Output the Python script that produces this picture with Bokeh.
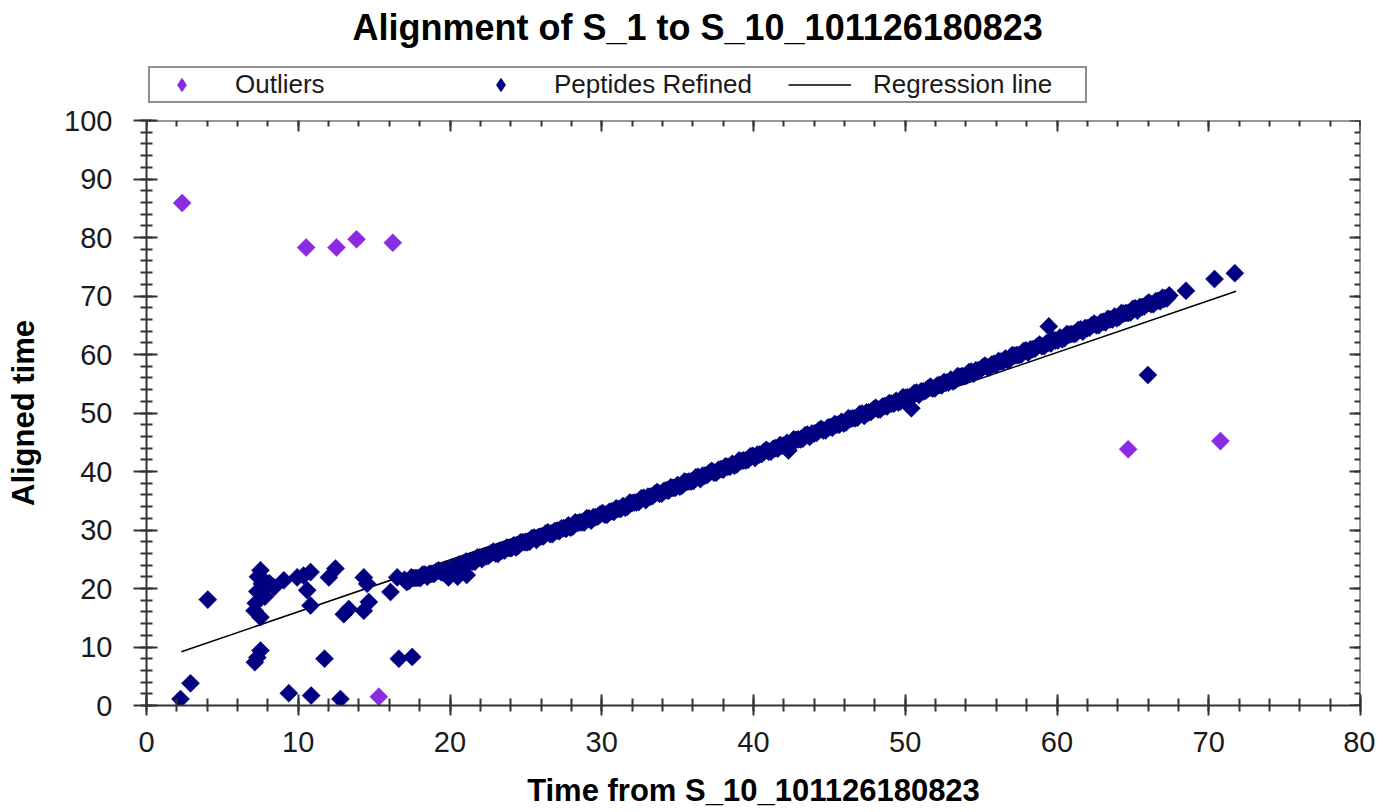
from bokeh.plotting import figure
from bokeh.models import Range1d, LinearAxis, Legend, LegendItem, FixedTicker
from bokeh.layouts import column
from bokeh.embed import file_html
from bokeh.resources import INLINE
import numpy as np

# ---------------- data ----------------
outlier_x = [2.35, 10.52, 12.52, 13.84, 16.23, 15.31, 64.69, 70.77]
outlier_y = [85.9, 78.3, 78.3, 79.7, 79.1, 1.5, 43.8, 45.2]

# scattered refined peptides at early times
early_x = [2.24, 2.90, 4.04, 7.14, 7.51, 7.30, 7.51, 7.35, 7.12, 7.51, 7.30, 7.60, 7.80,
           8.10, 9.05, 9.38, 9.93, 10.35, 10.81, 10.59, 10.81, 10.85, 11.73, 12.02,
           12.45, 12.78, 13.00, 13.33, 14.32, 14.54, 14.32, 14.65, 16.08, 16.63,
           17.51, 16.52, 7.20, 7.70, 8.40]
early_y = [1.1, 3.8, 18.1, 7.4, 9.4, 8.2, 23.1, 22.0, 16.2, 15.1, 19.5, 20.8, 18.6,
           20.9, 21.4, 2.1, 21.9, 22.2, 22.8, 19.7, 17.1, 1.7, 8.0, 21.9,
           23.4, 1.1, 15.6, 16.5, 21.9, 20.8, 16.2, 17.7, 19.4, 8.0,
           8.3, 21.9, 17.5, 21.5, 20.2]

# main band of refined peptides (two interleaved read-outs of the dense band)
band_x = [17.0, 17.3, 17.6, 17.9, 18.2, 18.5, 18.8, 19.1, 19.4, 19.7, 20.0, 20.3, 20.6,
          20.9, 21.2, 21.5, 21.8, 22.1, 22.4, 22.7, 23.0, 23.3, 23.6, 23.9, 24.2, 24.5,
          24.8, 25.1, 25.4, 25.7, 26.0, 26.3, 26.6, 26.9, 27.2, 27.5, 27.8, 28.1, 28.4,
          28.7, 29.0, 29.3, 29.6, 29.9, 30.2, 30.5, 30.8, 31.1, 31.4, 31.7, 32.0, 32.3,
          32.6, 32.9, 33.2, 33.5, 33.8, 34.1, 34.4, 34.7, 35.0, 35.3, 35.6, 35.9, 36.2,
          36.5, 36.8, 37.1, 37.4, 37.7, 38.0, 38.3, 38.6, 38.9, 39.2, 39.5, 39.8, 40.1,
          40.4, 40.7, 41.0, 41.3, 41.6, 41.9, 42.2, 42.5, 42.8, 43.1, 43.4, 43.7, 44.0,
          44.3, 44.6, 44.9, 45.2, 45.5, 45.8, 46.1, 46.4, 46.7, 47.0, 47.3, 47.6, 47.9,
          48.2, 48.5, 48.8, 49.1, 49.4, 49.7, 50.0, 50.3, 50.6, 50.9, 51.2, 51.5, 51.8,
          52.1, 52.4, 52.7, 53.0, 53.3, 53.6, 53.9, 54.2, 54.5, 54.8, 55.1, 55.4, 55.7,
          56.0, 56.3, 56.6, 56.9, 57.2, 57.5, 57.8, 58.1, 58.4, 58.7, 59.0, 59.3, 59.6,
          59.9, 60.2, 60.5, 60.8, 61.1, 61.4, 61.7, 62.0, 62.3, 62.6, 62.9, 63.2, 63.5,
          63.8, 64.1, 64.4, 64.7, 65.0, 65.3, 65.6, 65.9, 66.2, 66.5, 66.8, 67.1, 67.4]
band_y = [21.5, 21.3, 21.8, 21.8, 22.4, 22.0, 22.5, 22.9, 22.8, 23.2, 23.1, 23.6, 24.1,
          23.9, 24.5, 24.6, 25.3, 25.0, 25.5, 26.0, 26.0, 26.5, 26.5, 26.9, 27.4, 27.3,
          27.9, 27.9, 28.6, 28.3, 28.9, 29.4, 29.3, 29.8, 29.8, 30.3, 30.8, 30.6, 31.2,
          31.3, 32.0, 31.6, 32.2, 32.7, 32.6, 33.1, 33.1, 33.6, 34.1, 34.0, 34.6, 34.7,
          35.4, 35.1, 35.7, 36.2, 36.2, 36.7, 36.7, 37.2, 37.7, 37.6, 38.2, 38.3, 39.0,
          38.7, 39.3, 39.8, 39.8, 40.3, 40.3, 40.8, 41.3, 41.2, 41.8, 41.9, 42.6, 42.3,
          42.9, 43.4, 43.4, 43.9, 43.9, 44.4, 44.9, 44.8, 45.4, 45.5, 46.2, 45.9, 46.5,
          47.0, 47.0, 47.5, 47.5, 48.0, 48.5, 48.4, 49.0, 49.1, 49.8, 49.5, 50.1, 50.6,
          50.6, 51.1, 51.1, 51.6, 52.1, 52.0, 52.6, 52.7, 53.4, 53.1, 53.7, 54.2, 54.2,
          54.7, 54.7, 55.2, 55.7, 55.6, 56.2, 56.3, 57.0, 56.7, 57.3, 57.8, 57.8, 58.3,
          58.3, 58.8, 59.3, 59.2, 59.8, 59.9, 60.6, 60.3, 60.9, 61.4, 61.4, 61.9, 61.9,
          62.4, 62.9, 62.8, 63.4, 63.5, 64.2, 63.9, 64.5, 65.0, 65.0, 65.5, 65.5, 66.0,
          66.5, 66.4, 67.0, 67.1, 67.8, 67.5, 68.1, 68.6, 68.6, 69.1, 69.1, 69.6, 70.1]

band2_x = [17.15, 17.45, 17.75, 18.05, 18.35, 18.65, 18.95, 19.25, 19.55, 19.85, 20.15,
           20.45, 20.75, 21.05, 21.35, 21.65, 21.95, 22.25, 22.55, 22.85, 23.15, 23.45,
           23.75, 24.05, 24.35, 24.65, 24.95, 25.25, 25.55, 25.85, 26.15, 26.45, 26.75,
           27.05, 27.35, 27.65, 27.95, 28.25, 28.55, 28.85, 29.15, 29.45, 29.75, 30.05,
           30.35, 30.65, 30.95, 31.25, 31.55, 31.85, 32.15, 32.45, 32.75, 33.05, 33.35,
           33.65, 33.95, 34.25, 34.55, 34.85, 35.15, 35.45, 35.75, 36.05, 36.35, 36.65,
           36.95, 37.25, 37.55, 37.85, 38.15, 38.45, 38.75, 39.05, 39.35, 39.65, 39.95,
           40.25, 40.55, 40.85, 41.15, 41.45, 41.75, 42.05, 42.35, 42.65, 42.95, 43.25,
           43.55, 43.85, 44.15, 44.45, 44.75, 45.05, 45.35, 45.65, 45.95, 46.25, 46.55,
           46.85, 47.15, 47.45, 47.75, 48.05, 48.35, 48.65, 48.95, 49.25, 49.55, 49.85,
           50.15, 50.45, 50.75, 51.05, 51.35, 51.65, 51.95, 52.25, 52.55, 52.85, 53.15,
           53.45, 53.75, 54.05, 54.35, 54.65, 54.95, 55.25, 55.55, 55.85, 56.15, 56.45,
           56.75, 57.05, 57.35, 57.65, 57.95, 58.25, 58.55, 58.85, 59.15, 59.45, 59.75,
           60.05, 60.35, 60.65, 60.95, 61.25, 61.55, 61.85, 62.15, 62.45, 62.75, 63.05,
           63.35, 63.65, 63.95, 64.25, 64.55, 64.85, 65.15, 65.45, 65.75, 66.05, 66.35,
           66.65, 66.95, 67.25]
band2_y = [21.1, 21.9, 21.8, 21.8, 22.4, 22.5, 22.5, 23.1, 22.7, 23.2, 23.6,
           23.5, 23.7, 24.6, 24.6, 24.6, 25.3, 25.5, 25.6, 26.3, 25.9, 26.5,
           27.0, 26.9, 27.0, 27.9, 27.9, 28.0, 28.7, 28.8, 28.9, 29.6, 29.3,
           29.9, 30.3, 30.2, 30.4, 31.3, 31.3, 31.3, 32.0, 32.2, 32.3, 32.9,
           32.6, 33.2, 33.7, 33.6, 33.8, 34.7, 34.7, 34.8, 35.5, 35.7, 35.8,
           36.5, 36.2, 36.8, 37.3, 37.2, 37.4, 38.3, 38.3, 38.4, 39.1, 39.3,
           39.4, 40.1, 39.8, 40.4, 40.9, 40.8, 41.0, 41.9, 41.9, 42.0, 42.7,
           42.9, 43.0, 43.7, 43.4, 44.0, 44.5, 44.4, 44.6, 45.5, 45.5, 45.6,
           46.3, 46.5, 46.6, 47.3, 47.0, 47.6, 48.1, 48.0, 48.2, 49.1, 49.1,
           49.2, 49.9, 50.1, 50.2, 50.9, 50.6, 51.2, 51.7, 51.6, 51.8, 52.7,
           52.7, 52.8, 53.5, 53.7, 53.8, 54.5, 54.2, 54.8, 55.3, 55.2, 55.4,
           56.3, 56.3, 56.4, 57.1, 57.3, 57.4, 58.1, 57.8, 58.4, 58.9, 58.8,
           59.0, 59.9, 59.9, 60.0, 60.7, 60.9, 61.0, 61.7, 61.4, 62.0, 62.5,
           62.4, 62.6, 63.5, 63.5, 63.6, 64.3, 64.5, 64.6, 65.3, 65.0, 65.6,
           66.1, 66.0, 66.2, 67.1, 67.1, 67.2, 67.9, 68.1, 68.2, 68.9, 68.6,
           69.2, 69.7, 69.6]

# isolated refined peptides at late times
late_x = [19.9, 20.5, 21.1, 42.3, 50.4, 59.46, 65.99, 67.04, 68.50, 70.38, 71.72]
late_y = [21.9, 22.0, 22.3, 43.6, 50.8, 64.8, 56.5, 69.5, 70.9, 72.9, 73.9]

reg_x = [2.3, 71.8]
reg_y = [9.2, 70.8]

title_text = "Alignment of S_1 to S_10_101126180823"
x_label = "Time from S_10_101126180823"
y_label = "Aligned time"
x_ticks = [0, 10, 20, 30, 40, 50, 60, 70, 80]
y_ticks = [0, 10, 20, 30, 40, 50, 60, 70, 80, 90, 100]
x_minor = list(range(0, 81, 2))
y_minor = list(range(0, 101, 2))

# ---------------- styles ----------------
FONT = "Liberation Sans"
AX = "#333333"
NAVY = "#000080"
PURPLE = "#8A2BE2"
W = 1375

# ---------------- header: title + legend ----------------
head = figure(width=W, height=104, output_backend="svg", toolbar_location=None,
              x_range=Range1d(0, 80), y_range=Range1d(200, 300),
              x_axis_location=None, y_axis_location=None,
              min_border_left=146, min_border_right=15, min_border_top=0,
              min_border_bottom=0)
head.outline_line_color = None
head.grid.visible = False
head.background_fill_color = "white"
head.border_fill_color = "white"
head.title.text = title_text
head.title.text_font = FONT
head.title.text_font_size = "36px"
head.title.text_font_style = "bold"
head.title.text_color = "black"
head.title.align = "left"
head.title.offset = 206
head.title.standoff = 8

# legend swatches (the series lie outside this header's ranges, so only the legend shows them)
sw_out = head.scatter(outlier_x, outlier_y, marker="diamond", fill_color=PURPLE, line_color=PURPLE)
sw_pep = head.scatter(band_x, band_y, marker="diamond", fill_color=NAVY, line_color=NAVY)
sw_reg = head.line(reg_x, reg_y, line_color="black", line_width=1.5)

legend = Legend(items=[
    LegendItem(label="Outliers", renderers=[sw_out]),
    LegendItem(label="Peptides Refined", renderers=[sw_pep]),
    LegendItem(label="Regression line", renderers=[sw_reg]),
], orientation="horizontal", location=(2, 1))
legend.label_text_font = FONT
legend.label_text_font_size = "26px"
legend.label_text_color = "#1a1a1a"
legend.glyph_width = 63
legend.glyph_height = 33
legend.label_standoff = 22
legend.label_width = 212
legend.spacing = 22
legend.padding = 0
legend.margin = 0
legend.border_line_color = "#222222"
legend.border_line_width = 2
legend.background_fill_color = "white"
legend.background_fill_alpha = 1.0
head.add_layout(legend, "center")

# ---------------- main plot ----------------
p = figure(width=W, height=706, output_backend="svg", toolbar_location=None,
           x_range=Range1d(0, 80), y_range=Range1d(0, 100),
           min_border_left=146, min_border_right=15, min_border_bottom=105,
           min_border_top=16)
p.background_fill_color = "white"
p.border_fill_color = "white"
p.outline_line_color = None
p.grid.visible = False


def style_axis(ax, major_in, major_out, minor_in, minor_out):
    ax.axis_line_color = AX
    ax.axis_line_width = 2
    ax.major_tick_line_color = AX
    ax.major_tick_line_width = 2
    ax.minor_tick_line_color = AX
    ax.minor_tick_line_width = 2
    ax.major_tick_in = major_in
    ax.major_tick_out = major_out
    ax.minor_tick_in = minor_in
    ax.minor_tick_out = minor_out
    ax.major_label_text_font = FONT
    ax.major_label_text_color = "#1a1a1a"
    ax.major_label_text_font_size = "29px"


xa = p.xaxis[0]
xa.ticker = FixedTicker(ticks=x_ticks, minor_ticks=x_minor)
style_axis(xa, 11, 10, 7, 6)
xa.major_label_standoff = 16
xa.axis_label = x_label
xa.axis_label_text_font = FONT
xa.axis_label_text_font_size = "31px"
xa.axis_label_text_font_style = "bold"
xa.axis_label_text_color = "black"
xa.axis_label_standoff = 18

ya = p.yaxis[0]
ya.ticker = FixedTicker(ticks=y_ticks, minor_ticks=y_minor)
style_axis(ya, 11, 13, 6, 6)
ya.major_label_standoff = 21
ya.axis_label = y_label
ya.axis_label_text_font = FONT
ya.axis_label_text_font_size = "31px"
ya.axis_label_text_font_style = "bold"
ya.axis_label_text_color = "black"
ya.axis_label_standoff = 20


def tick_only_axis(positions, length, loc, line=True):
    # label-free axis: only "minor" ticks, pointing into the frame
    ax = LinearAxis(ticker=FixedTicker(ticks=[], minor_ticks=positions), fixed_location=loc)
    ax.axis_line_color = AX if line else None
    ax.axis_line_width = 2
    ax.major_tick_line_color = None
    ax.major_tick_in = 0
    ax.major_tick_out = 0
    ax.minor_tick_line_color = AX
    ax.minor_tick_line_width = 2
    ax.minor_tick_in = length
    ax.minor_tick_out = 0
    ax.major_label_standoff = 0
    return ax


p.add_layout(tick_only_axis(x_minor, 6, 100), "above")
p.add_layout(tick_only_axis(x_ticks, 11, 100, line=False), "above")
p.add_layout(tick_only_axis(y_minor, 6, 80), "right")
p.add_layout(tick_only_axis(y_ticks, 11, 80, line=False), "right")

ang = np.pi / 4
MS = 12.8

p.line(reg_x, reg_y, line_color="black", line_width=1.5)
p.scatter(band_x + band2_x, band_y + band2_y, marker="square", angle=ang, size=MS,
          fill_color=NAVY, line_color=NAVY, line_width=0.5)
p.scatter(early_x + late_x, early_y + late_y, marker="square", angle=ang, size=MS,
          fill_color=NAVY, line_color=NAVY, line_width=0.5)
p.scatter(outlier_x, outlier_y, marker="square", angle=ang, size=MS,
          fill_color=PURPLE, line_color=PURPLE, line_width=0.5)

layout = column(head, p, spacing=0)
open("out.html", "w").write(file_html(layout, INLINE))
